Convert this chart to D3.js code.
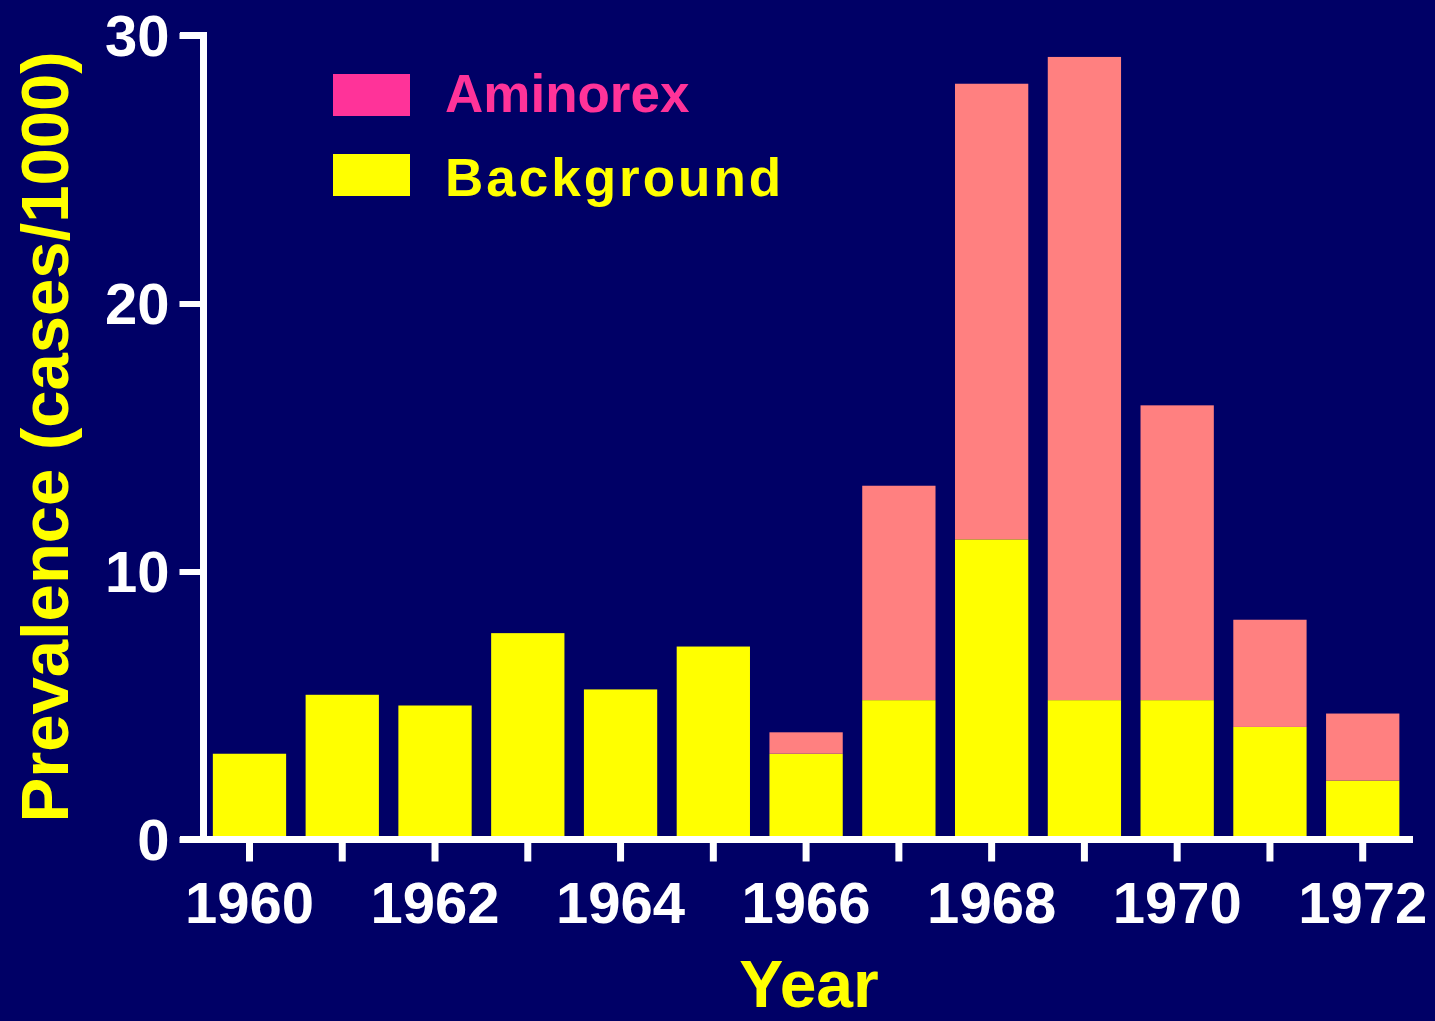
<!DOCTYPE html>
<html>
<head>
<meta charset="utf-8">
<script src="https://cdn.jsdelivr.net/npm/d3@7"></script>
<style>
  html, body { margin: 0; padding: 0; background: #000066; }
  svg { display: block; }
  text { font-family: "Liberation Sans", Arial, Helvetica, sans-serif; font-weight: bold; }
</style>
</head>
<body>
<svg id="chart" width="1435" height="1021"></svg>
<script>
const years = [1960, 1961, 1962, 1963, 1964, 1965, 1966, 1967, 1968, 1969, 1970, 1971, 1972];
const background = [3.2, 5.4, 5.0, 7.7, 5.6, 7.2, 3.2, 5.2, 11.2, 5.2, 5.2, 4.2, 2.2];
const aminorex = [0, 0, 0, 0, 0, 0, 0.8, 8.0, 17.0, 24.0, 11.0, 4.0, 2.5];
const yTicks = [0, 10, 20, 30];
const xLabelYears = [1960, 1962, 1964, 1966, 1968, 1970, 1972];
const seriesNames = ["Background", "Aminorex"];
const barColors = { Background: "#FFFF00", Aminorex: "#FF8080" };
const legendColors = { Background: "#FFFF00", Aminorex: "#FF3399" };

const rows = years.map((yr, i) => ({ year: yr, Background: background[i], Aminorex: aminorex[i] }));

const svg = d3.select("#chart");
svg.append("rect").attr("width", 1435).attr("height", 1021).attr("fill", "#000066");

const x = d3.scaleBand().domain(years).range([203.1, 1409.1]).paddingInner(0.21).paddingOuter(0.105);
const y = d3.scaleLinear().domain([0, 30]).range([839.5, 35.5]);

const stacked = d3.stack().keys(seriesNames)(rows);

svg.append("g").selectAll("g").data(stacked).join("g")
  .attr("fill", d => barColors[d.key])
  .selectAll("rect").data(d => d.filter(p => p[1] - p[0] > 0)).join("rect")
  .attr("x", d => x(d.data.year))
  .attr("width", x.bandwidth())
  .attr("y", d => y(d[1]))
  .attr("height", d => y(d[0]) - y(d[1]));

// Axes
const axisColor = "#FFFFFF";
// y axis
const yAxis = d3.axisLeft(y).tickValues(yTicks).tickSize(24).tickPadding(10).tickFormat(d3.format("d"));
const gy = svg.append("g").attr("transform", "translate(203.5,0)").call(yAxis);
gy.select(".domain").remove();
gy.selectAll(".tick line").attr("stroke", axisColor).attr("stroke-width", 6);
gy.selectAll(".tick text").attr("fill", "#FFFFFF").attr("font-size", 58).attr("dy", "0.34em");
svg.append("line").attr("x1", 203.5).attr("x2", 203.5).attr("y1", y(30) - 3.5).attr("y2", y(0) + 3.5)
  .attr("stroke", axisColor).attr("stroke-width", 7);
svg.append("line").attr("x1", 180).attr("x2", 207).attr("y1", y(30)).attr("y2", y(30))
  .attr("stroke", axisColor).attr("stroke-width", 7);

// x axis
const xAxis = d3.axisBottom(x).tickSize(22).tickPadding(20)
  .tickFormat(d => xLabelYears.includes(d) ? String(d) : "");
const gx = svg.append("g").attr("transform", `translate(0,${y(0)})`).call(xAxis);
gx.select(".domain").remove();
gx.selectAll(".tick line").attr("stroke", axisColor).attr("stroke-width", 7);
gx.selectAll(".tick text").attr("fill", "#FFFFFF").attr("font-size", 58).attr("dy", "0.71em");
svg.append("line").attr("x1", 180).attr("x2", 1413).attr("y1", y(0)).attr("y2", y(0))
  .attr("stroke", axisColor).attr("stroke-width", 7);

// Axis titles
svg.append("text")
  .attr("transform", "translate(68,437) rotate(-90)")
  .attr("text-anchor", "middle")
  .attr("fill", "#FFFF00")
  .attr("font-size", 67)
  .text("Prevalence (cases/1000)");

svg.append("text")
  .attr("x", 809).attr("y", 1007)
  .attr("text-anchor", "middle")
  .attr("fill", "#FFFF00")
  .attr("font-size", 66)
  .text("Year");

// Legend
const legendItems = [
  { name: "Aminorex", rectY: 74, textY: 112, spacing: 0 },
  { name: "Background", rectY: 154, textY: 196, spacing: 3 }
];
const lg = svg.append("g");
lg.selectAll("rect").data(legendItems).join("rect")
  .attr("x", 333).attr("y", d => d.rectY).attr("width", 77).attr("height", 42)
  .attr("fill", d => legendColors[d.name]);
lg.selectAll("text").data(legendItems).join("text")
  .attr("x", 445).attr("y", d => d.textY)
  .attr("fill", d => legendColors[d.name])
  .attr("font-size", 53)
  .attr("letter-spacing", d => d.spacing)
  .text(d => d.name);
</script>
</body>
</html>
